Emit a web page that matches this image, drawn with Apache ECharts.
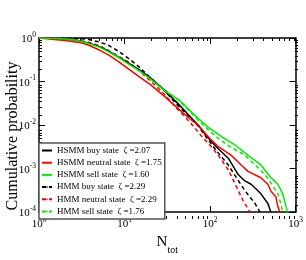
<!DOCTYPE html>
<html><head><meta charset="utf-8">
<script src="https://cdn.jsdelivr.net/npm/echarts@6/dist/echarts.min.js"></script>
<style>html,body{margin:0;padding:0;background:#fff}#c{width:306px;height:260px}</style>
</head><body><div id="c"></div>
<script>
// Series names (legend text)
const seriesNames = [
  'HSMM buy state  \u03b6 =2.07',
  'HSMM neutral state  \u03b6 =1.75',
  'HSMM sell state  \u03b6 =1.60',
  'HMM buy state  \u03b6 =2.29',
  'HMM neutral state  \u03b6 =2.29',
  'HMM sell state  \u03b6 =1.76'
];
// [N_tot, cumulative probability]
const hsmmBuy = [[1,1],[1.75,0.975],[2.61,0.903],[3.7,0.775],[5.09,0.633],[6.3,0.516],[8.23,0.38],[10.7,0.28],[14.8,0.187],[20.4,0.118],[29.6,0.0609],[43,0.0299],[56.1,0.0171],[73.3,0.00975],[90.7,0.00557],[118,0.00318],[163,0.00173],[213,0.000728],[255,0.00052],[301,0.000437],[350,0.00033],[393,0.000263],[474,0.000158],[513,0.0001]];
const hsmmNeutral = [[1,1],[2,0.88],[2.99,0.79],[3.7,0.70],[5.09,0.529],[6.64,0.40],[8.68,0.28],[10.7,0.206],[14.8,0.13],[20.4,0.0826],[29.6,0.0449],[43,0.0232],[56.1,0.0147],[73.3,0.00975],[95.7,0.0053],[125,0.00318],[177,0.00201],[231,0.00121],[278,0.000861],[393,0.000615],[474,0.000437],[513,0.000306],[587,0.000226],[619,0.000136],[653,0.0001]];
const hsmmSell = [[1,1],[1.75,0.975],[2.61,0.903],[3.7,0.764],[5.09,0.617],[6.3,0.498],[8.23,0.371],[10.7,0.266],[14.8,0.177],[20.4,0.112],[29.6,0.0609],[43,0.0385],[51.8,0.027],[67.6,0.0162],[95.7,0.00881],[139,0.0053],[202,0.00335],[278,0.00201],[393,0.00121],[513,0.000625],[619,0.000437],[707,0.000263],[766,0.000143],[808,0.0001]];
const hmmBuy = [[1,1],[2,0.985],[2.99,0.96],[3.7,0.936],[4.95,0.816],[6.3,0.70],[8.23,0.516],[10.7,0.361],[14.8,0.217],[20.4,0.118],[29.6,0.0609],[40.7,0.0299],[56.1,0.0162],[73.3,0.00927],[88.3,0.00557],[118,0.0026],[163,0.00121],[202,0.000625],[257,0.000306],[335,0.000158],[383,0.0001]];
const hmmNeutral = [[1,1],[1.75,0.975],[2.61,0.903],[3.7,0.816],[5.09,0.666],[6.3,0.529],[8.23,0.40],[10.7,0.295],[14.8,0.177],[20.4,0.101],[29.6,0.0497],[39.7,0.0256],[56.1,0.0126],[79.4,0.00557],[101,0.00335],[125,0.00201],[163,0.000938],[197,0.000437],[243,0.000184],[293,0.0001]];
const hmmSell = [[1,1],[1.75,0.975],[2.61,0.903],[3.7,0.795],[5.09,0.649],[6.3,0.529],[8.23,0.39],[10.7,0.28],[14.8,0.187],[20.4,0.118],[29.6,0.0641],[43,0.0366],[56.1,0.022],[73.3,0.0126],[115,0.00557],[163,0.00335],[257,0.00201],[335,0.00121],[438,0.000728],[527,0.000437],[619,0.000263],[670,0.000158],[707,0.0001]];

const xMajorTicks = [1, 10, 100, 1000];
const yMajorTicks = [0.0001, 0.001, 0.01, 0.1, 1];
const xMinorTicks = [];
[1, 10, 100].forEach(d => { for (let k = 2; k <= 9; k++) xMinorTicks.push(k * d); });
const yMinorTicks = [];
[0.0001, 0.001, 0.01, 0.1].forEach(d => { for (let k = 2; k <= 9; k++) yMinorTicks.push(+(k * d).toPrecision(3)); });

const SERIF = '"Liberation Serif", "DejaVu Serif", serif';
const gridRect = {left: 39, right: 8, top: 38, bottom: 41};
const lineAx = {show: true, onZero: false, lineStyle: {color: '#000', width: 1.5}};
const labelFmt = v => '{b|10}{s|' + Math.round(Math.log10(v)) + '}';
const labelRich = {
  b: {fontFamily: SERIF, fontSize: 11, color: '#000', verticalAlign: 'bottom', lineHeight: 14},
  s: {fontFamily: SERIF, fontSize: 7.5, color: '#000', verticalAlign: 'top', lineHeight: 14}
};

function xAx(grid, pos, major, labels) {
  return {
    type: 'log', logBase: 10, min: 1, max: 1000, gridIndex: grid, position: pos,
    axisLine: major ? lineAx : {show: false},
    axisTick: {show: true, inside: true, length: major ? 6 : 3, customValues: major ? xMajorTicks : xMinorTicks,
      lineStyle: {color: '#000', width: 1}},
    axisLabel: labels ? {show: true, customValues: xMajorTicks, formatter: labelFmt, rich: labelRich, margin: 4} : {show: false},
    splitLine: {show: false}, minorTick: {show: false}
  };
}
function yAx(grid, pos, major, labels) {
  return {
    type: 'log', logBase: 10, min: 0.0001, max: 1, gridIndex: grid, position: pos,
    axisLine: major ? lineAx : {show: false},
    axisTick: {show: true, inside: true, length: major ? 6 : 3, customValues: major ? yMajorTicks : yMinorTicks,
      lineStyle: {color: '#000', width: 1}},
    axisLabel: labels ? {show: true, customValues: yMajorTicks, formatter: labelFmt, rich: labelRich, margin: 3} : {show: false},
    splitLine: {show: false}, minorTick: {show: false}
  };
}

const xAxes = [xAx(0, 'bottom', true, true), xAx(0, 'top', true, false), xAx(1, 'bottom', false, false), xAx(1, 'top', false, false)];
xAxes[0].name = '{n|N}{t|tot}';
xAxes[0].nameLocation = 'middle';
xAxes[0].nameGap = 16;
xAxes[0].nameTextStyle = {rich: {
  n: {fontFamily: SERIF, fontSize: 15, color: '#000', verticalAlign: 'top', lineHeight: 20},
  t: {fontFamily: SERIF, fontSize: 10, color: '#000', verticalAlign: 'bottom', lineHeight: 20}
}};

const colors = ['#000000', '#ff0000', '#00ee00', '#000000', '#ff0000', '#00ee00'];
const datasets = [hsmmBuy, hsmmNeutral, hsmmSell, hmmBuy, hmmNeutral, hmmSell];
const series = datasets.map((d, i) => ({
  type: 'line', name: seriesNames[i], data: d, xAxisIndex: 0, yAxisIndex: 0,
  showSymbol: false, symbol: 'none', clip: true, z: i < 3 ? 3 : 2,
  lineStyle: {color: colors[i], width: 1.5, type: i < 3 ? 'solid' : [4, 3]},
  itemStyle: {color: colors[i]}
}));

const chart = echarts.init(document.getElementById('c'), null, {renderer: 'canvas'});
chart.setOption({
  animation: false,
  backgroundColor: '#fff',
  grid: [Object.assign({}, gridRect), Object.assign({}, gridRect)],
  xAxis: xAxes,
  yAxis: [yAx(0, 'left', true, true), yAx(0, 'right', true, false), yAx(1, 'left', false, false), yAx(1, 'right', false, false)],
  legend: {
    show: true, orient: 'vertical', left: 39, top: 143,
    data: seriesNames,
    itemWidth: 10, itemHeight: 2, itemGap: 1.2,
    padding: [2, 3, 2, 2],
    backgroundColor: '#fff', borderColor: '#555', borderWidth: 1.5,
    textStyle: {fontFamily: SERIF, fontSize: 9, color: '#000', lineHeight: 11},
    selectedMode: false, z: 10
  },
  graphic: [{
    type: 'text', x: 13, y: 136, rotation: Math.PI / 2,
    style: {text: 'Cumulative probability', font: '16px ' + SERIF, fill: '#000', textAlign: 'center', textVerticalAlign: 'middle'}
  }],
  series: series
});
</script></body></html>
